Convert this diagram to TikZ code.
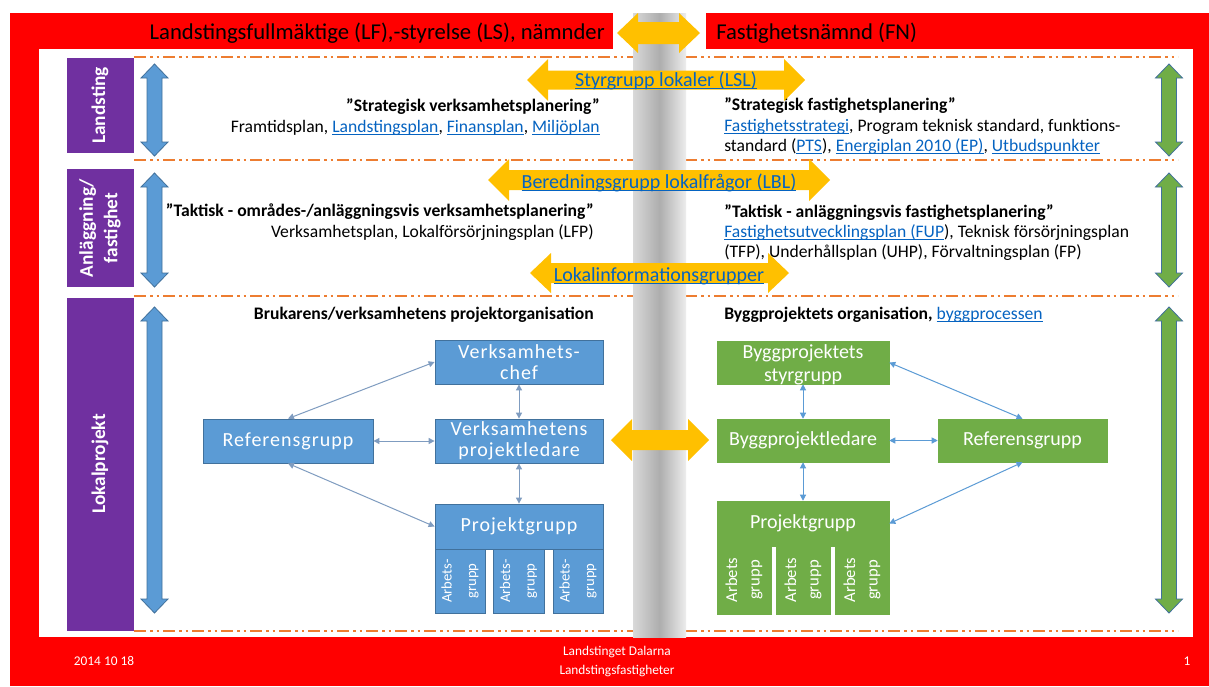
\documentclass[tikz,border=0pt]{standalone}
\usepackage{fontspec}
\setmainfont{Carlito}
\usetikzlibrary{arrows.meta}
\definecolor{rd}{HTML}{FF0000}
\definecolor{purp}{HTML}{7030A0}
\definecolor{bblue}{HTML}{5B9BD5}
\definecolor{bborder}{HTML}{41719C}
\definecolor{ggreen}{HTML}{70AD47}
\definecolor{yel}{HTML}{FFC000}
\definecolor{orng}{HTML}{ED7D31}
\definecolor{lnk}{HTML}{0563C1}
\definecolor{conl}{HTML}{7F9CC0}
\newlength\px \setlength\px{0.75pt}
\newcommand\lk[1]{{\color{lnk}\setbox0\hbox{#1}\rlap{\rule[-2.5pt]{\wd0}{0.65pt}}\box0}}
% horizontal double block arrow: style, xl, xr, yc, halfhead, halfshaft, headlen
\newcommand\harrow[7]{\fill[#1] (#2,#4) -- (#2+#7,#4-#5) -- (#2+#7,#4-#6) -- (#3-#7,#4-#6) -- (#3-#7,#4-#5) -- (#3,#4) -- (#3-#7,#4+#5) -- (#3-#7,#4+#6) -- (#2+#7,#4+#6) -- (#2+#7,#4+#5) -- cycle;}
% vertical double block arrow: style, xc, yt, yb, halfhead, halfshaft, headlen
\newcommand\varrow[7]{\filldraw[#1] (#2,#3) -- (#2+#5,#3+#7) -- (#2+#6,#3+#7) -- (#2+#6,#4-#7) -- (#2+#5,#4-#7) -- (#2,#4) -- (#2-#5,#4-#7) -- (#2-#6,#4-#7) -- (#2-#6,#3+#7) -- (#2-#5,#3+#7) -- cycle;}
\begin{document}
\begin{tikzpicture}[x=0.75pt,y=-0.75pt,
  body/.style={font=\fontsize{13.2}{15}\selectfont, inner sep=0pt},
  bodyb/.style={font=\fontsize{13.2}{15}\selectfont\bfseries, inner sep=0pt},
  head/.style={font=\fontsize{17}{20}\selectfont, inner sep=0pt},
  plabel/.style={fill=purp, text=white, rotate=90, align=center, inner sep=0pt,
    font=\fontsize{14.5}{18.5}\selectfont\bfseries},
  dashline/.style={orng, line width=1.5pt, dash pattern=on 12\px off 4\px on 2.5\px off 4\px on 2.5\px off 4\px},
  barrow/.style={fill=bblue, draw=bborder, line width=0.6pt},
  garrow/.style={fill=ggreen, draw=bborder, line width=0.6pt},
  yarrow/.style={fill=yel},
  atext/.style={font=\fontsize{15}{18}\selectfont, inner sep=0pt},
  bbox/.style={draw=bborder, fill=bblue, text=white, align=center, inner sep=0pt, line width=0.6pt,
    font=\fontsize{15}{15.5}\selectfont\addfontfeatures{LetterSpace=5}},
  gbox/.style={draw=ggreen, fill=ggreen, text=white, align=center, inner sep=0pt,
    font=\fontsize{15}{17}\selectfont},
  bcol/.style={bbox, rotate=90, font=\fontsize{11}{18.5}\selectfont},
  gcol/.style={gbox, rotate=90, font=\fontsize{12.5}{17}\selectfont},
  con/.style={{Triangle[length=4.5pt,width=4.5pt]}-{Triangle[length=4.5pt,width=4.5pt]}, line width=0.75pt},
  foot/.style={text=white, font=\fontsize{10}{12}\selectfont, inner sep=0pt}
]
\useasboundingbox (0,0) rectangle (1209,686);
\fill[white] (0,0) rectangle (1209,686);
% red frame
\fill[rd] (10,13) rectangle (1209,686);
\fill[white] (39,49) rectangle (1193,637);
\fill[white] (613,13) rectangle (706,49);
\node[head, anchor=base east] (lfhead) at (605,39) {Landstingsfullmäktige (LF),-styrelse (LS), nämnder};
\node[head, anchor=base west] (fnhead) at (716,39) {Fastighetsnämnd (FN)};
% dashed separators
\draw[dashline] (134,57) -- (1178,57);
\draw[dashline] (134,160) -- (1178,160);
\draw[dashline] (134,296) -- (1178,296);
\draw[dashline] (134,631) -- (1178,631);
% purple labels
\node[plabel, minimum width=95\px, minimum height=67\px] (pland) at (100,105.5) {Landsting};
\node[plabel, minimum width=118\px, minimum height=67\px] (panl) at (100,228) {Anläggning/\\fastighet};
\node[plabel, minimum width=333\px, minimum height=67\px] (plok) at (100,464) {Lokalprojekt};
% vertical arrows
\varrow{barrow}{154.5}{64}{156}{13.5}{7.5}{14}
\varrow{barrow}{154.5}{173}{287}{13.5}{7.5}{14}
\varrow{barrow}{154.5}{307}{613}{13.5}{7.5}{14}
\varrow{garrow}{1169}{64}{156}{13.5}{7.5}{14}
\varrow{garrow}{1169}{173}{287}{13.5}{7.5}{14}
\varrow{garrow}{1169}{307}{613}{13.5}{7.5}{14}
% texts left
\node[bodyb, anchor=base east] (l1a) at (600,111) {”Strategisk verksamhetsplanering”};
\node[body, anchor=base east] (l1b) at (600,132) {Framtidsplan, \lk{Landstingsplan}, \lk{Finansplan}, \lk{Miljöplan}};
\node[bodyb, anchor=base east] (l2a) at (594,216) {”Taktisk - områdes-/anläggningsvis verksamhetsplanering”};
\node[body, anchor=base east] (l2b) at (594,237) {Verksamhetsplan, Lokalförsörjningsplan (LFP)};
\node[bodyb, anchor=base east] (l3a) at (594,319) {Brukarens/verksamhetens projektorganisation};
% texts right
\node[bodyb, anchor=base west] (r1a) at (724,110) {”Strategisk fastighetsplanering”};
\node[body, anchor=base west] (r1b) at (724,131) {\lk{Fastighetsstrategi}, Program teknisk standard, funktions-};
\node[body, anchor=base west] (r1c) at (724,151) {standard (\lk{PTS}), \lk{Energiplan 2010 (EP)}, \lk{Utbudspunkter}};
\node[bodyb, anchor=base west] (r2a) at (724,217) {”Taktisk - anläggningsvis fastighetsplanering”};
\node[body, anchor=base west] (r2b) at (724,237) {\lk{Fastighetsutvecklingsplan (FUP}), Teknisk försörjningsplan};
\node[body, anchor=base west] (r2c) at (724,257) {(TFP), Underhållsplan (UHP), Förvaltningsplan (FP)};
\node[body, anchor=base west] (r3a) at (724,319) {\textbf{Byggprojektets organisation,} \lk{byggprocessen}};
% gray bar
\shade[left color=black!15, right color=black!7, middle color=black!32] (633,13) rectangle (686,637);
% yellow arrows
\harrow{yarrow}{617}{700}{33}{20}{11}{21}
\harrow{yarrow}{527}{805}{80}{21}{9.5}{21}
\harrow{yarrow}{488}{830}{180}{21}{10}{21}
\harrow{yarrow}{530}{789}{273}{20}{10}{21}
\harrow{yarrow}{611}{709}{440}{21}{10}{21}
\node[atext, anchor=base] (lsl) at (666,86) {\lk{Styrgrupp lokaler (LSL)}};
\node[atext, anchor=base] (lbl) at (659,188) {\lk{Beredningsgrupp lokalfrågor (LBL)}};
\node[atext, anchor=base] (lig) at (659,281) {\lk{Lokalinformationsgrupper}};
% blue organisation
\node[bbox, minimum width=168\px, minimum height=44\px] (vchef) at (519,362) {Verksamhets-\\chef};
\node[bbox, minimum width=168\px, minimum height=44\px] (vpl) at (519,441) {Verksamhetens\\projektledare};
\node[bbox, minimum width=170\px, minimum height=44\px] (bref) at (288,441) {Referensgrupp};
\node[bbox, minimum width=168\px, minimum height=45\px] (bpg) at (519,526.5) {Projektgrupp};
\node[bcol, minimum width=64\px, minimum height=50\px] (bc1) at (460,581) {Arbets-\\grupp};
\node[bcol, minimum width=64\px, minimum height=51\px] (bc2) at (518.5,581) {Arbets-\\grupp};
\node[bcol, minimum width=64\px, minimum height=50\px] (bc3) at (578,581) {Arbets-\\grupp};
\draw[con, conl] (bref.north) -- (vchef.west);
\draw[con, conl] (bref.east) -- (vpl.west);
\draw[con, conl] (bref.south) -- (bpg.west);
\draw[con, conl] (vchef.south) -- (vpl.north);
\draw[con, conl] (vpl.south) -- (bpg.north);
% green organisation
\node[gbox, minimum width=172\px, minimum height=43\px] (gstyr) at (803,362.5) {};
\node[gbox, fill=none, draw=none, anchor=center] (gstyrt) at (803,365) {Byggprojektets\\styrgrupp};
\node[gbox, minimum width=172\px, minimum height=43\px] (gbpl) at (803,440.5) {Byggprojektledare};
\node[gbox, minimum width=169\px, minimum height=43\px] (gref) at (1022.5,440.5) {Referensgrupp};
\node[gbox, minimum width=172\px, minimum height=45\px] (gpg) at (803,523.5) {Projektgrupp};
\node[gcol, minimum width=68\px, minimum height=54\px] (gc1) at (744,580) {Arbets\\grupp};
\node[gcol, minimum width=68\px, minimum height=54\px] (gc2) at (803,580) {Arbets\\grupp};
\node[gcol, minimum width=68\px, minimum height=54\px] (gc3) at (862,580) {Arbets\\grupp};
\draw[con, bblue] (gstyr.east) -- (gref.north);
\draw[con, bblue] (gstyr.south) -- (gbpl.north);
\draw[con, bblue] (gbpl.east) -- (gref.west);
\draw[con, bblue] (gbpl.south) -- (gpg.north);
\draw[con, bblue] (gref.south) -- (gpg.east);
% footer
\node[foot] (fdate) at (104,661) {2014 10 18};
\node[foot] (forg1) at (617,652) {Landstinget Dalarna};
\node[foot] (forg2) at (617,671) {Landstingsfastigheter};
\node[foot] (fnum) at (1187,661) {1};
\end{tikzpicture}
\end{document}
